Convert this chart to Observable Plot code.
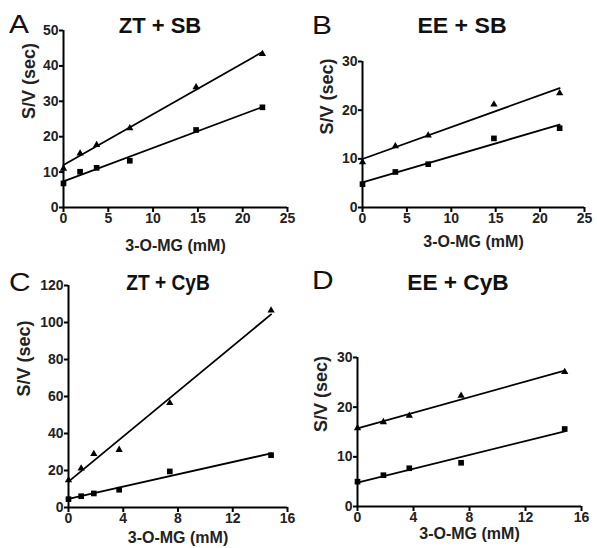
<!DOCTYPE html>
<html>
<head>
<meta charset="utf-8">
<script src="https://cdn.jsdelivr.net/npm/d3@7"></script>
<script src="https://cdn.jsdelivr.net/npm/@observablehq/plot@0.6"></script>
<style>
  body { margin: 0; background: white; }
  #fig { position: relative; width: 597px; height: 548px; background: white; overflow: hidden; }
  #fig svg { position: absolute; }
  .ttl { position: absolute; font: bold 22px "Liberation Sans", Arial, sans-serif; line-height: 1; white-space: nowrap; color: #111; transform-origin: center; }
  .let { position: absolute; font: 26px "Liberation Sans", Arial, sans-serif; line-height: 1; color: #111; transform: scaleX(1.15); transform-origin: left; }
</style>
</head>
<body>
<div id="fig"></div>
<script>
// Panel A: ZT + SB
const xA = [0, 1.85, 3.7, 7.4, 14.8, 22.2];
const triA = [11.0, 15.3, 17.7, 22.4, 34.0, 43.4];
const sqA = [6.8, 10.1, 11.2, 13.2, 21.9, 28.3];
// Panel B: EE + SB
const xB = [0, 3.7, 7.4, 14.8, 22.2];
const triB = [9.3, 12.6, 14.8, 21.2, 23.5];
const sqB = [4.8, 7.3, 8.9, 14.2, 16.3];
// Panel C: ZT + CyB
const xC = [0, 0.925, 1.85, 3.7, 7.4, 14.8];
const triC = [14.8, 21.1, 29.0, 31.2, 56.5, 106.5];
const sqC = [4.5, 6.1, 7.6, 9.6, 19.5, 28.3];
// Panel D: EE + CyB
const xD = [0, 1.85, 3.7, 7.4, 14.8];
const triD = [15.8, 17.0, 18.3, 22.3, 27.1];
const sqD = [5.0, 6.3, 7.7, 8.8, 15.6];

const titles = ["ZT + SB", "EE + SB", "ZT + CyB", "EE + CyB"];
const letters = ["A", "B", "C", "D"];
const xTicksSB = [0, 5, 10, 15, 20, 25];
const xTicksCyB = [0, 4, 8, 12, 16];
const yTicksA = [0, 10, 20, 30, 40, 50];
const yTicksB = [0, 10, 20, 30];
const yTicksC = [0, 20, 40, 60, 80, 100, 120];
const yTicksD = [0, 10, 20, 30];
const xLabel = "3-O-MG (mM)";
const yLabel = "S/V (sec)";

const fig = document.getElementById("fig");
const FONT = "'Liberation Sans', Arial, sans-serif";

function panel(o) {
  const tri = o.xs.map((x, i) => ({x, y: o.tri[i]}));
  const sq = o.xs.map((x, i) => ({x, y: o.sq[i]}));
  const svg = Plot.plot({
    width: o.w, height: o.h,
    marginLeft: o.ml, marginRight: o.mr, marginTop: o.mt, marginBottom: o.mb,
    style: {fontFamily: FONT, fontWeight: "bold", color: "#222", background: "white", left: o.left + "px", top: o.top + "px", overflow: "visible"},
    x: {domain: o.xDomain},
    y: {domain: o.yDomain},
    marks: [
      Plot.axisX({ticks: o.xTicks, tickSize: 5, tickPadding: 1, stroke: "black", strokeWidth: 2, fontSize: 14, fontFamily: FONT, fontWeight: "bold", label: null}),
      Plot.axisY({ticks: o.yTicks, tickSize: 4, tickPadding: 1, stroke: "black", strokeWidth: 2, fontSize: 14, fontFamily: FONT, fontWeight: "bold", label: null}),
      Plot.text([xLabel], {frameAnchor: "bottom", dy: o.xlo, lineAnchor: "bottom", fontSize: 16, fontFamily: FONT, fontWeight: "bold", fill: "#222"}),
      Plot.text([yLabel], {frameAnchor: "left", dx: -o.ylo, rotate: -90, lineAnchor: "top", fontSize: 18, fontFamily: FONT, fontWeight: "bold", fill: "#222"}),
      Plot.ruleX([o.xDomain[0]], {stroke: "black", strokeWidth: 2}),
      Plot.ruleY([o.yDomain[0]], {stroke: "black", strokeWidth: 2}),
      Plot.linearRegressionY(tri, {x: "x", y: "y", stroke: "black", strokeWidth: 1.8, ci: 0}),
      Plot.linearRegressionY(sq, {x: "x", y: "y", stroke: "black", strokeWidth: 1.8, ci: 0}),
      Plot.dot(tri, {x: "x", y: "y", symbol: "triangle", fill: "black", r: 2.7}),
      Plot.dot(sq, {x: "x", y: "y", symbol: "square", fill: "black", r: 3.2})
    ]
  });
  fig.appendChild(svg);
}

panel({xs: xA, tri: triA, sq: sqA, xDomain: [0, 25], yDomain: [0, 50], xTicks: xTicksSB, yTicks: yTicksA,
  left: 0, top: 0, w: 298, h: 270, ml: 63, mr: 11, mt: 30, mb: 63, xlo: 43, ylo: 41});
panel({xs: xB, tri: triB, sq: sqB, xDomain: [0, 25], yDomain: [0, 30], xTicks: xTicksSB, yTicks: yTicksB,
  left: 298, top: 0, w: 299, h: 270, ml: 64, mr: 13, mt: 61, mb: 63, xlo: 39, ylo: 42});
panel({xs: xC, tri: triC, sq: sqC, xDomain: [0, 16], yDomain: [0, 120], xTicks: xTicksCyB, yTicks: yTicksC,
  left: 0, top: 270, w: 298, h: 278, ml: 68, mr: 11, mt: 15, mb: 41, xlo: 35, ylo: 51});
panel({xs: xD, tri: triD, sq: sqD, xDomain: [0, 16], yDomain: [0, 30], xTicks: xTicksCyB, yTicks: yTicksD,
  left: 298, top: 270, w: 299, h: 278, ml: 59, mr: 16, mt: 87, mb: 42, xlo: 32, ylo: 43});

const titlePos = [[160, 15, 1.0], [462, 15, 1.05], [168, 272, 0.87], [458, 272, 1.03]];
titles.forEach((t, i) => {
  const d = document.createElement("div");
  d.className = "ttl";
  d.textContent = t;
  d.style.left = titlePos[i][0] + "px";
  d.style.top = titlePos[i][1] + "px";
  d.style.transform = `translateX(-50%) scaleX(${titlePos[i][2]})`;
  fig.appendChild(d);
});
const letterPos = [[9, 11], [312, 12], [9, 269], [312, 267]];
letters.forEach((t, i) => {
  const d = document.createElement("div");
  d.className = "let";
  d.textContent = t;
  d.style.left = letterPos[i][0] + "px";
  d.style.top = letterPos[i][1] + "px";
  fig.appendChild(d);
});
</script>
</body>
</html>
